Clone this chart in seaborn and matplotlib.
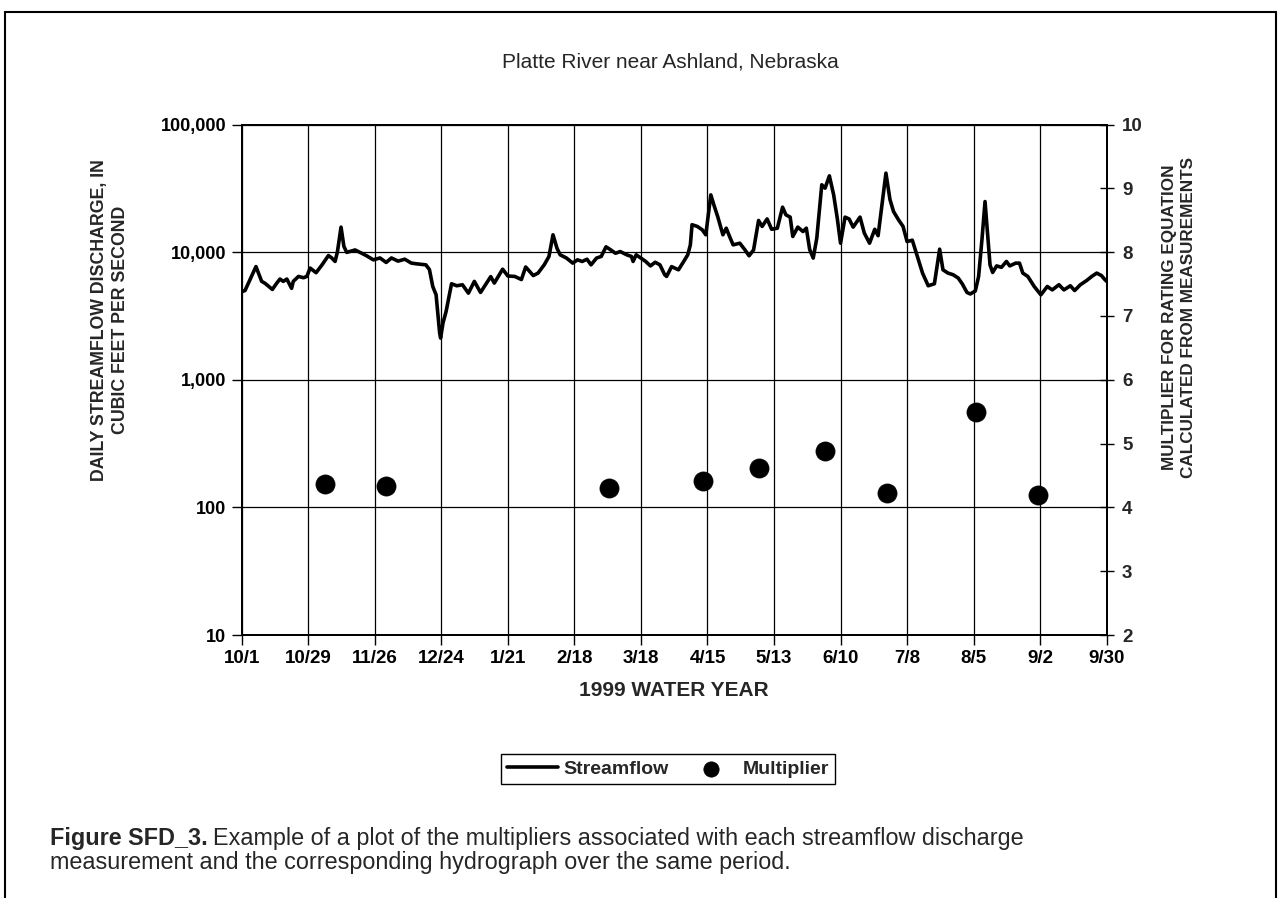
import matplotlib
matplotlib.use("Agg")
import matplotlib.pyplot as plt
import seaborn as sns
import numpy as np
import pandas as pd
from matplotlib.lines import Line2D

# ---------------- data ----------------
title = "Platte River near Ashland, Nebraska"
x_tick_days = [0, 28, 56, 84, 112, 140, 168, 196, 224, 252, 280, 308, 336, 364]
x_tick_labels = ["10/1", "10/29", "11/26", "12/24", "1/21", "2/18", "3/18",
                 "4/15", "5/13", "6/10", "7/8", "8/5", "9/2", "9/30"]
y_left_ticks = [10, 100, 1000, 10000, 100000]
y_left_labels = ["10", "100", "1,000", "10,000", "100,000"]
y_right_ticks = [2, 3, 4, 5, 6, 7, 8, 9, 10]

# days since 10/1 and daily streamflow (cfs)
flow_day = [0, 1.4, 6, 8.4, 9.8, 12.9, 14.7, 16.1, 17.5, 19, 21, 21.7, 23.9, 26, 27.4,
            28.8, 31.3, 33.7, 36.5, 37.9, 39.3, 40.3, 41.8, 43, 44.2, 47.7, 50.5, 52.6,
            55.4, 58.2, 60.8, 63, 65.8, 68.6, 71.4, 73.5, 77.5, 79, 80.4, 81.8, 83.3,
            83.7, 84.7, 86, 88.3, 90.5, 92.9, 95.4, 97.9, 100.5, 102.6, 104.8, 106.3,
            109.8, 112, 114.9, 117.7, 119.5, 122.7, 124.7, 127.3, 129.3, 131, 132.7,
            134, 136.7, 139.3, 141.3, 143.3, 145.3, 147, 149.3, 151.3, 153.3, 155,
            157.3, 159.3, 162, 164, 164.7, 166, 168, 170, 172, 174, 176, 178, 178.8,
            180.9, 183.8, 186, 187.7, 188.8, 189.5, 191.7, 193.8, 195.3, 197.4, 198.9,
            200.3, 202.5, 203.9, 205.3, 206.8, 209.6, 211.8, 213.5, 215.4, 217.5, 219,
            221.1, 223, 225.4, 227.6, 229, 230.8, 231.9, 234, 236.2, 237.6, 239,
            240.5, 242, 244.1, 245.5, 247.3, 249.1, 250.6, 252, 253.9, 255.6, 257.3,
            260.2, 262, 264.2, 266.4, 267.8, 271.1, 272.8, 274.3, 276.4, 278.3, 280,
            282.2, 284.3, 286.5, 288.9, 291.5, 293.7, 295.1, 297.2, 299.4, 301.5,
            303.2, 305.2, 306.6, 308.7, 310.1, 311.5, 312.8, 314.2, 314.9, 316, 317.7,
            319.7, 321.8, 323.2, 325.7, 327.3, 328.7, 330.8, 333.5, 336.3, 339, 341.1,
            343.9, 346, 348.7, 350.5, 352.9, 355.6, 357.7, 359.8, 361.8, 363.2, 364]
flow_cfs = [4900, 5000, 7700, 5900, 5700, 5100, 5700, 6150, 5900, 6150, 5200, 5900, 6450,
            6300, 6450, 7500, 6900, 7900, 9400, 9000, 8450, 10100, 15700, 11100, 9950,
            10400, 9800, 9350, 8700, 9000, 8300, 9000, 8500, 8800, 8200, 8100, 7950,
            7300, 5380, 4630, 2320, 2120, 2780, 3420, 5650, 5450, 5550, 4770, 5900,
            4830, 5550, 6430, 5720, 7350, 6500, 6450, 6100, 7650, 6550, 6850, 7950,
            9250, 13670, 10700, 9530, 8980, 8200, 8700, 8450, 8800, 7950, 8980, 9250,
            11000, 10500, 9800, 10100, 9530, 9250, 8450, 9530, 8980, 8450, 7800, 8330,
            7950, 6650, 6450, 7700, 7270, 8450, 9530, 11400, 16400, 15900, 14960,
            13670, 28100, 22800, 19000, 13670, 15400, 13260, 11400, 11750, 10400, 9360,
            10400, 17700, 15900, 18200, 15100, 15400, 22500, 19600, 18800, 13260,
            15700, 14500, 15400, 10500, 8980, 12870, 33700, 31700, 39600, 28100, 18500,
            11750, 18800, 18200, 15700, 18800, 14100, 11750, 15100, 13450, 41600,
            25800, 20800, 17900, 15900, 12100, 12400, 9250, 6850, 5450, 5650, 10550,
            7270, 6850, 6650, 6270, 5650, 4830, 4700, 4960, 6450, 12500, 24900, 11750,
            7950, 6930, 7800, 7600, 8450, 7800, 8200, 8200, 6850, 6450, 5380, 4630,
            5380, 5060, 5550, 5060, 5450, 5000, 5550, 6000, 6450, 6850, 6550, 6100, 5900]

mult_day = [35.1, 60.8, 154.4, 194.3, 217.8, 245.6, 271.5, 309.2, 335.2]
mult_val = [4.37, 4.34, 4.31, 4.41, 4.62, 4.88, 4.23, 5.50, 4.19]

flow_df = pd.DataFrame({"day": flow_day, "cfs": flow_cfs})
mult_df = pd.DataFrame({"day": mult_day, "mult": mult_val})

# ---------------- style ----------------
sns.set_theme(style="white")
plt.rcParams["font.family"] = ["Liberation Sans", "DejaVu Sans"]

W, H = 1278, 898
fig = plt.figure(figsize=(W / 100, H / 100), dpi=100)
fig.patch.set_facecolor("white")

L, R, T, B = 241.7, 1106.7, 124.5, 635.0
ax = fig.add_axes([L / W, 1 - B / H, (R - L) / W, (B - T) / H])
ax.set_facecolor("white")

ax.set_yscale("log")
sns.lineplot(data=flow_df, x="day", y="cfs", ax=ax, color="black", lw=2.6,
             estimator=None, sort=False, label="Streamflow", zorder=3)
ax.set_xlim(0, 364)
ax.set_ylim(10, 100000)
ax.set_xticks(x_tick_days)
ax.set_xticklabels(x_tick_labels)
ax.set_yticks(y_left_ticks)
ax.set_yticklabels(y_left_labels)
ax.minorticks_off()
ax.yaxis.set_minor_locator(matplotlib.ticker.NullLocator())
ax.grid(True, which="major", color="black", lw=0.9)
ax.set_axisbelow(True)
for s in ax.spines.values():
    s.set_color("black")
    s.set_linewidth(1.4)

ax.tick_params(axis="both", which="major", direction="out", length=7, width=1.0,
               color="black", labelcolor="black", pad=4, bottom=True, left=True)
ax.tick_params(axis="x", labelsize=13.5)
ax.tick_params(axis="y", labelsize=13)
for lbl in ax.get_xticklabels() + ax.get_yticklabels():
    lbl.set_fontweight("bold")

ax.set_xlabel("1999 WATER YEAR", fontsize=15, fontweight="bold", labelpad=10)
ax.set_ylabel("")

ax2 = ax.twinx()
sns.scatterplot(data=mult_df, x="day", y="mult", ax=ax2, color="black", s=190,
                edgecolor="black", linewidth=0.5, label="Multiplier", zorder=4)
ax2.set_ylim(2, 10)
ax2.set_xlim(0, 364)
ax2.set_yticks(y_right_ticks)
ax2.grid(False)
ax2.tick_params(axis="y", direction="inout", length=10, width=1.0, color="black",
                labelsize=13.5, pad=6, right=True)
for lbl in ax2.get_yticklabels():
    lbl.set_fontweight("bold")
ax2.set_ylabel("")
for s in ax2.spines.values():
    s.set_color("black")
    s.set_linewidth(1.4)

# axis titles placed as in the reference
fig.text(110 / W, 1 - 320 / H,
         "DAILY STREAMFLOW DISCHARGE, IN\nCUBIC FEET PER SECOND",
         rotation=90, ha="center", va="center", fontsize=12.8, fontweight="bold",
         linespacing=1.25, multialignment="center")
fig.text(1179 / W, 1 - 317 / H,
         "MULTIPLIER FOR RATING EQUATION\nCALCULATED FROM MEASUREMENTS",
         rotation=90, ha="center", va="center", fontsize=12.3, fontweight="bold",
         linespacing=1.3, multialignment="center")

# combined legend
h1, l1 = ax.get_legend_handles_labels()
h2, l2 = ax2.get_legend_handles_labels()
if ax.get_legend():
    ax.get_legend().remove()
if ax2.get_legend():
    ax2.get_legend().remove()
leg = fig.legend(h1 + h2, l1 + l2, loc="center", bbox_to_anchor=(668 / W, 1 - 769 / H),
                 ncol=2, frameon=True, fancybox=False, framealpha=1, edgecolor="black",
                 prop={"size": 14, "weight": "bold"}, handlelength=2.6,
                 columnspacing=0.9, handletextpad=0.3, borderpad=0.3,
                 markerscale=0.8)
leg.get_frame().set_linewidth(1.0)

# title
fig.text(670 / W, 1 - 62 / H, title, ha="center", va="center", fontsize=15)

# caption with bold lead-in
fig.canvas.draw()
renderer = fig.canvas.get_renderer()
cap_x, cap_y1, cap_y2 = 50 / W, 1 - 838 / H, 1 - 863 / H
t_bold = fig.text(cap_x, cap_y1, "Figure SFD_3.", fontsize=16.8, fontweight="bold",
                  ha="left", va="center")
bb = t_bold.get_window_extent(renderer=renderer)
fig.text(bb.x1 / W + 5 / W, cap_y1,
         "Example of a plot of the multipliers associated with each streamflow discharge",
         fontsize=16.8, ha="left", va="center")
fig.text(cap_x, cap_y2,
         "measurement and the corresponding hydrograph over the same period.",
         fontsize=16.8, ha="left", va="center")

# outer frame
for (xs, ys) in [((5, 5), (12, 898)), ((5, 1276), (12, 12)), ((1276, 1276), (12, 898))]:
    fig.add_artist(Line2D([x / W for x in xs], [1 - y / H for y in ys],
                          color="black", lw=1.5, transform=fig.transFigure))

fig.savefig("out.png", dpi=100, facecolor="white")
